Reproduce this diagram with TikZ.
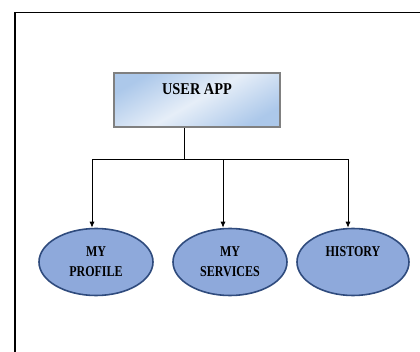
\documentclass[tikz,border=0pt]{standalone}
\usepackage{fontspec}
\setmainfont{Liberation Serif}
\newfontfamily\leaffont[FakeStretch=0.8]{Liberation Serif}
\newfontfamily\titlefont[FakeStretch=0.87]{Liberation Serif}
\usetikzlibrary{shapes.geometric,arrows.meta,calc}
\definecolor{ellfill}{RGB}{142,169,219}
\definecolor{ellline}{RGB}{47,75,125}
\definecolor{boxlight}{RGB}{230,238,248}
\definecolor{boxdark}{RGB}{172,200,234}
\definecolor{boxedge}{RGB}{128,128,128}
\begin{document}
\begin{tikzpicture}[x=1pt,y=-1pt,
  appbox/.style={rectangle, draw=boxedge, line width=2.5pt,
    minimum width=166pt, minimum height=54pt, inner sep=0pt,
    top color=boxdark, bottom color=boxdark, middle color=boxlight,
    shading angle=30},
  leaf/.style={ellipse, draw=ellline, line width=1.6pt, fill=ellfill,
    minimum width=114pt, minimum height=67pt, inner sep=0pt,
    align=center, font=\leaffont\fontsize{15}{20}\selectfont\bfseries},
  link/.style={line width=0.8pt, draw=black},
  arr/.style={link, -{Latex[length=6pt,width=5pt]}}
]
\useasboundingbox (0,0) rectangle (420,352);

% page frame (left and top edges)
\draw[line width=2.2pt] (15,352) -- (15,11.8);
\draw[line width=1.5pt] (14,12.5) -- (420,12.5);

% root box
\node[appbox] (app) at (197,100) {};
\node[font=\titlefont\fontsize{16.5}{18}\selectfont\bfseries] (apptitle) at (197,89) {USER APP};

% child ellipses
\node[leaf] (prof) at (96,262) {MY\\PROFILE};
\node[leaf] (serv) at (230,262) {MY\\SERVICES};
\node[leaf, minimum width=112pt] (hist) at (353,262) {HISTORY\\\mbox{}};

% connectors
\coordinate (bus) at (184,159);
\draw[link] (app.south -| bus) -- (bus);
\draw[arr] (bus) -| ([xshift=-4pt]prof.north);
\draw[arr] (bus) -| ([xshift=-7pt]serv.north);
\draw[arr] (bus) -| ([xshift=-5pt]hist.north);
\end{tikzpicture}
\end{document}
